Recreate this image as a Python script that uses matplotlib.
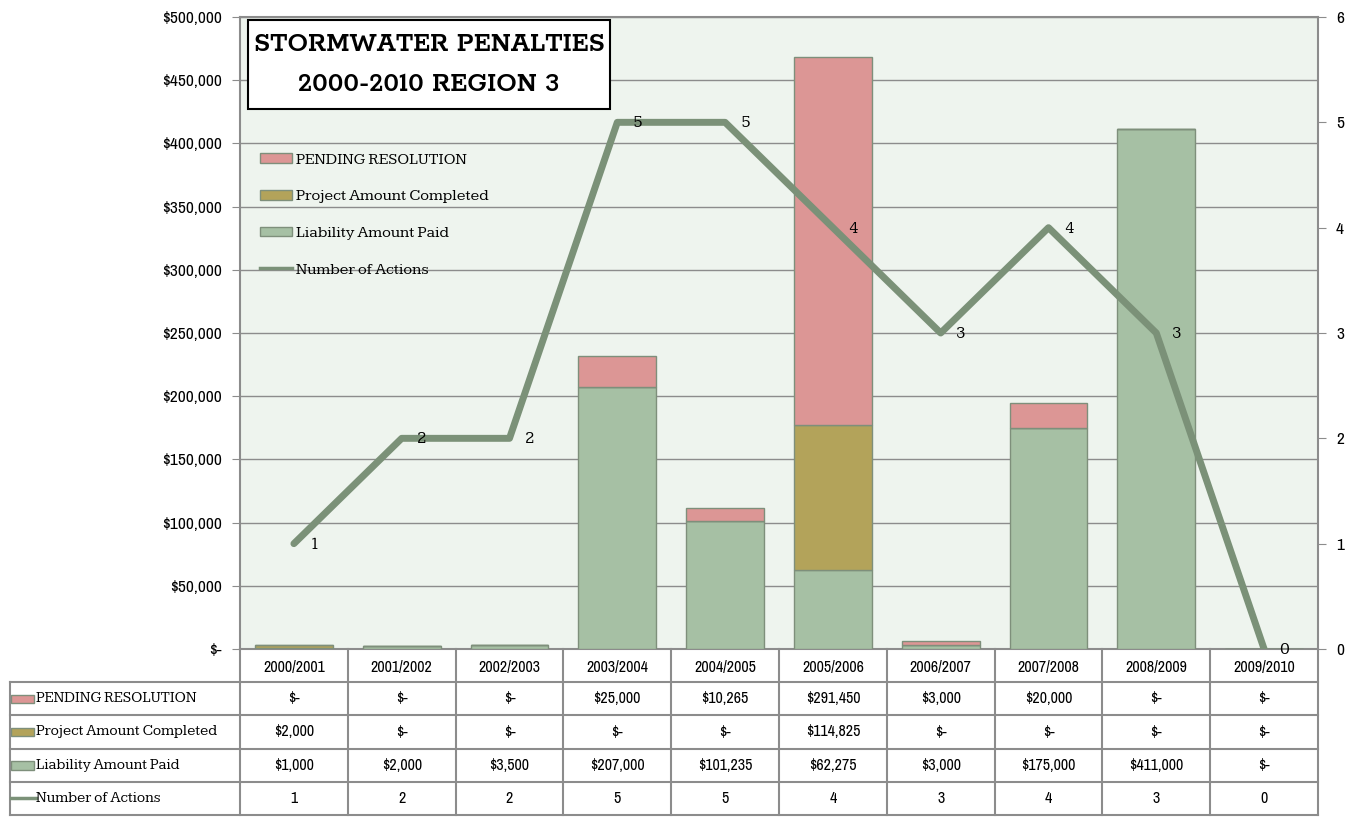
import matplotlib
matplotlib.use("Agg")
import matplotlib.pyplot as plt
from matplotlib.patches import Rectangle
from matplotlib.lines import Line2D

# -----------------------------
# Data
# -----------------------------
categories = ['2000/2001', '2001/2002', '2002/2003', '2003/2004', '2004/2005',
              '2005/2006', '2006/2007', '2007/2008', '2008/2009', '2009/2010']
pending = [0, 0, 0, 25000, 10265, 291450, 3000, 20000, 0, 0]
project = [2000, 0, 0, 0, 0, 114825, 0, 0, 0, 0]
liability = [1000, 2000, 3500, 207000, 101235, 62275, 3000, 175000, 411000, 0]
actions = [1, 2, 2, 5, 5, 4, 3, 4, 3, 0]

y_ticks = [0, 50000, 100000, 150000, 200000, 250000, 300000, 350000, 400000, 450000, 500000]
y2_ticks = [0, 1, 2, 3, 4, 5, 6]

series_labels = ['PENDING RESOLUTION', 'Project Amount Completed',
                 'Liability Amount Paid', 'Number of Actions']
title_lines = ['STORMWATER PENALTIES', '2000-2010 REGION 3']

# -----------------------------
# Style
# -----------------------------
C_PEND = '#DC9695'
C_PROJ = '#B3A35A'
C_LIAB = '#A6C0A4'
C_LINE = '#7B9178'
C_EDGE = '#7E8F7B'
C_BG = '#EEF4EE'
C_GRID = '#8C8C8C'
TITLE_FONT = ['Rokkitt', 'DejaVu Serif']
SLAB = ['Kameron', 'Rokkitt', 'DejaVu Serif']
NARROW = ['Archivo Narrow', 'Roboto Condensed', 'DejaVu Sans']

W, H = 1359, 817
fig = plt.figure(figsize=(W / 100, H / 100), dpi=100)

x0, x1, ytop, ybot = 240, 1318, 17, 649
ax = fig.add_axes([x0 / W, 1 - ybot / H, (x1 - x0) / W, (ybot - ytop) / H])
ax.set_facecolor(C_BG)

x = list(range(len(categories)))
bw = 0.72
b2 = [a + b for a, b in zip(liability, project)]
ax.bar(x, liability, bw, color=C_LIAB, edgecolor=C_EDGE, lw=1, zorder=3)
ax.bar(x, project, bw, bottom=liability, color=C_PROJ, edgecolor=C_EDGE, lw=1, zorder=3)
ax.bar(x, pending, bw, bottom=b2, color=C_PEND, edgecolor=C_EDGE, lw=1, zorder=3)

ax.set_xlim(-0.5, len(categories) - 0.5)
ax.set_ylim(0, 500000)
ax.set_yticks(y_ticks)
ax.set_yticklabels(['$-'] + ['${:,}'.format(v) for v in y_ticks[1:]],
                   family=NARROW, fontsize=12.5)
ax.set_xticks([])
ax.grid(axis='y', color=C_GRID, lw=1, zorder=1)
ax.set_axisbelow(True)
for s in ['left', 'right', 'bottom', 'top']:
    ax.spines[s].set_color(C_GRID)
    ax.spines[s].set_linewidth(1.5)
ax.tick_params(axis='y', colors=C_GRID, length=6, labelcolor='black', pad=7)

ax2 = ax.twinx()
ax2.plot(x, actions, color=C_LINE, lw=5, solid_capstyle='round', zorder=5)
ax2.set_ylim(0, 6)
ax2.set_yticks(y2_ticks)
ax2.set_yticklabels([str(v) for v in y2_ticks], family=NARROW, fontsize=12.5)
ax2.tick_params(axis='y', colors=C_GRID, length=6, labelcolor='black', pad=7)
for s in ax2.spines.values():
    s.set_visible(False)
for xi, v in zip(x, actions):
    ax2.annotate(str(v), (xi, v), xytext=(11, -1), textcoords='offset points',
                 ha='left', va='center', family=SLAB, fontsize=12.5, zorder=6)

# title box
ax.add_patch(Rectangle((0.0074, 0.8544), 0.3358, 0.1408, transform=ax.transAxes,
                       fc='white', ec='black', lw=1.5, zorder=10))
for ty, line in zip([0.956, 0.892], title_lines):
    ax.text(0.1753, ty, line, transform=ax.transAxes, ha='center', va='center',
            family=TITLE_FONT, fontweight='bold', fontsize=20.5, zorder=11)

# legend
handles = [Rectangle((0, 0), 1, 1, fc=C_PEND, ec=C_EDGE),
           Rectangle((0, 0), 1, 1, fc=C_PROJ, ec=C_EDGE),
           Rectangle((0, 0), 1, 1, fc=C_LIAB, ec=C_EDGE),
           Line2D([], [], color=C_LINE, lw=2.5)]
leg = ax.legend(handles, series_labels, loc='upper left', bbox_to_anchor=(0.005, 0.807),
                frameon=False, prop={'family': SLAB, 'size': 11.5},
                labelspacing=1.45, handlelength=2.0, handleheight=0.55,
                handletextpad=0.25)
leg.set_zorder(10)

# -----------------------------
# Data table
# -----------------------------
tl, tb = 10, 815
n = len(categories)
cw = (x1 - x0) / n
left_cats = (x0 - tl) / cw
tax = fig.add_axes([tl / W, 1 - tb / H, (x1 - tl) / W, (tb - ybot) / H])
tax.set_xlim(-0.5 - left_cats, n - 0.5)
tax.set_ylim(5, 0)
tax.axis('off')

lc = '#8C8C8C'
lx = -0.5 - left_cats
for r in range(1, 6):
    tax.plot([lx, n - 0.5], [r, r], color=lc, lw=1.5, clip_on=False)
for c in range(n + 1):
    tax.plot([c - 0.5, c - 0.5], [0, 5], color=lc, lw=1.5, clip_on=False)
tax.plot([lx, lx], [1, 5], color=lc, lw=1.5, clip_on=False)

for i, cat in enumerate(categories):
    tax.text(i, 0.55, cat, ha='center', va='center', family=NARROW, fontsize=11.5)


def fmt(v):
    return '$-' if v == 0 else '${:,}'.format(v)


rows = [(series_labels[0], pending, C_PEND), (series_labels[1], project, C_PROJ),
        (series_labels[2], liability, C_LIAB)]
hw = 23 / cw
for r, (lab, vals, col) in enumerate(rows, start=1):
    tax.add_patch(Rectangle((lx + 0.005, r + 0.38), hw, 0.25, fc=col, ec=C_EDGE,
                            lw=1, clip_on=False))
    tax.text(lx + 26 / cw, r + 0.5, lab, ha='left', va='center', family=SLAB, fontsize=10.8)
    for i, v in enumerate(vals):
        tax.text(i, r + 0.5, fmt(v), ha='center', va='center', family=NARROW, fontsize=11.5)

tax.plot([lx + 0.005, lx + 26 / cw], [4.5, 4.5], color=C_LINE, lw=2.5, clip_on=False)
tax.text(lx + 26 / cw, 4.5, series_labels[3], ha='left', va='center', family=SLAB, fontsize=10.8)
for i, v in enumerate(actions):
    tax.text(i, 4.5, str(v), ha='center', va='center', family=NARROW, fontsize=11.5)

fig.savefig('out.png', dpi=100, facecolor='white')
